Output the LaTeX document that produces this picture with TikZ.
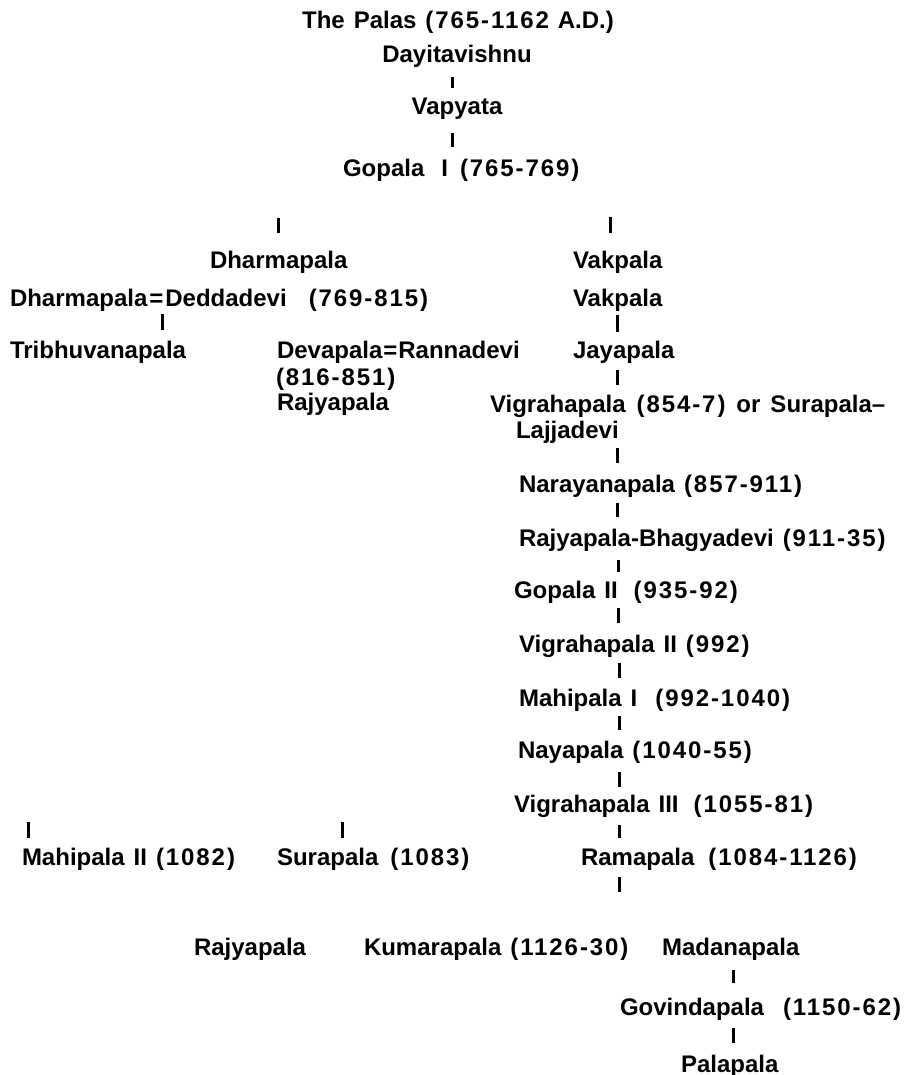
\documentclass[tikz,border=0pt]{standalone}
\usepackage{fontspec}
\setmainfont{Liberation Sans}
\newcommand\yr[1]{{\addfontfeatures{LetterSpace=8}#1}}
\newcommand\palafont{\bfseries\fontsize{24}{28}\selectfont\setlength{\spaceskip}{9pt}}
\tikzset{
  lbl/.style={anchor=base west, inner sep=0pt, outer sep=0pt, text=black, font=\palafont},
  lblc/.style={lbl, anchor=base},
  bar/.style={line width=3pt, black},
}
\begin{document}
\begin{tikzpicture}[x=1pt,y=-1pt]
\path[use as bounding box, fill=white] (0,0) rectangle (911,1075);
% top stem
\node[lblc] (title) at (458,29) {The Palas \yr{(765-1162} A.D.)};
\node[lblc] (dayi) at (457,63) {Dayitavishnu};
\node[lblc] (vapy) at (457,115) {Vapyata};
\node[lbl] (gop1) at (343,177) {Gopala\hspace{17pt}I\hspace{12pt}\yr{(765-769)}};
% second generation
\node[lbl] (dhar) at (210,268) {Dharmapala};
\node[lbl] (vak1) at (573,269) {Vakpala};
\node[lbl] (dhded) at (10,306) {Dharmapala\hspace{2pt}=\hspace{2pt}Deddadevi\hspace{22pt}\yr{(769-815)}};
\node[lbl] (vak2) at (573,306) {Vakpala};
\node[lbl] (trib) at (10,358) {Tribhuvanapala};
\node[lbl] (deva) at (277,358) {Devapala\hspace{1pt}=\hspace{1pt}Rannadevi};
\node[lbl] (devyr) at (276,385) {\yr{(816-851)}};
\node[lbl] (rajy1) at (277,410) {Rajyapala};
\node[lbl] (jaya) at (573,358) {Jayapala};
% right column
\node[lbl] (vigr1) at (490,412) {Vigrahapala\hspace{11pt}\yr{(854-7)}\hspace{11pt}or\hspace{10pt}Surapala–};
\node[lbl] (lajj) at (516,438) {Lajjadevi};
\node[lbl] (nara) at (519,492) {Narayanapala \yr{(857-911)}};
\node[lbl] (rajb) at (519,546) {Rajyapala-Bhagyadevi \yr{(911-35)}};
\node[lbl] (gop2) at (514,598) {Gopala II\hspace{16pt}\yr{(935-92)}};
\node[lbl] (vigr2) at (519,652) {Vigrahapala II \yr{(992)}};
\node[lbl] (mahi1) at (519,706) {Mahipala I\hspace{18pt}\yr{(992-1040)}};
\node[lbl] (naya) at (518,758) {Nayapala \yr{(1040-55)}};
\node[lbl] (vigr3) at (514,812) {Vigrahapala III\hspace{15pt}\yr{(1055-81)}};
% fourth row
\node[lbl] (mahi2) at (22,865) {Mahipala II \yr{(1082)}};
\node[lbl] (sura) at (277,865) {Surapala\hspace{12pt}\yr{(1083)}};
\node[lbl] (rama) at (581,865) {Ramapala\hspace{14pt}\yr{(1084-1126)}};
% bottom
\node[lbl] (rajy2) at (194,955) {Rajyapala};
\node[lbl] (kuma) at (364,955) {Kumarapala \yr{(1126-30)}};
\node[lbl] (mada) at (662,955) {Madanapala};
\node[lbl] (govi) at (620,1015) {Govindapala\hspace{19pt}\yr{(1150-62)}};
\node[lbl] (pala) at (681,1072) {Palapala};
% bars (short descent strokes)
\coordinate (b1a) at (452,77);  \coordinate (b1b) at (452,88);
\coordinate (b2a) at (452,133); \coordinate (b2b) at (452,147);
\coordinate (b3a) at (278,218); \coordinate (b3b) at (278,233);
\coordinate (b4a) at (610,217); \coordinate (b4b) at (610,233);
\coordinate (b5a) at (162,314); \coordinate (b5b) at (162,330);
\coordinate (b6a) at (617,315); \coordinate (b6b) at (617,332);
\coordinate (b7a) at (617,370); \coordinate (b7b) at (617,385);
\coordinate (b8a) at (617,448); \coordinate (b8b) at (617,463);
\coordinate (b9a) at (617,503); \coordinate (b9b) at (617,517);
\coordinate (b10a) at (618,560); \coordinate (b10b) at (618,572);
\coordinate (b11a) at (618,608); \coordinate (b11b) at (618,623);
\coordinate (b12a) at (619,663); \coordinate (b12b) at (619,678);
\coordinate (b13a) at (619,716); \coordinate (b13b) at (619,730);
\coordinate (b14a) at (619,772); \coordinate (b14b) at (619,787);
\coordinate (b15a) at (619,825); \coordinate (b15b) at (619,838);
\coordinate (b16a) at (28,822);  \coordinate (b16b) at (28,838);
\coordinate (b17a) at (342,822); \coordinate (b17b) at (342,838);
\coordinate (b18a) at (619,877); \coordinate (b18b) at (619,892);
\coordinate (b19a) at (733,970); \coordinate (b19b) at (733,983);
\coordinate (b20a) at (733,1028); \coordinate (b20b) at (733,1043);
\foreach \i in {1,...,20} {\draw[bar] (b\i a) -- (b\i b);}
\end{tikzpicture}
\end{document}
